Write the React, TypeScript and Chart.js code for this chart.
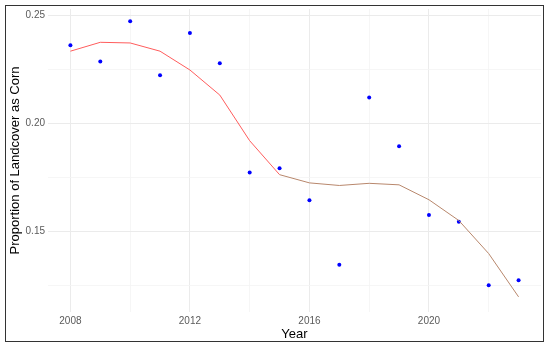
import React, { useEffect, useRef } from "react";
import { Chart, registerables } from "chart.js";

Chart.register(...registerables);

const years = [2008, 2009, 2010, 2011, 2012, 2013, 2014, 2015, 2016, 2017, 2018, 2019, 2020, 2021, 2022, 2023];
const observed = [0.236, 0.2285, 0.2471, 0.2222, 0.2417, 0.2277, 0.1772, 0.1792, 0.1644, 0.1346, 0.2119, 0.1893, 0.1575, 0.1544, 0.1251, 0.1274];
const smoothed = [0.2333, 0.2374, 0.2371, 0.2333, 0.2246, 0.213, 0.1919, 0.1762, 0.1724, 0.1712, 0.1722, 0.1715, 0.1646, 0.155, 0.1397, 0.1197];
const xTicks = [2008, 2010, 2012, 2014, 2016, 2018, 2020, 2022];
const xMajor = [2008, 2012, 2016, 2020];
const yTicks = [0.125, 0.15, 0.175, 0.2, 0.225, 0.25];
const yMajor = [0.15, 0.2, 0.25];

const isMajor = (list: number[], v: number) => list.some((m) => Math.abs(m - v) < 1e-9);

export default function App() {
  const ref = useRef<HTMLCanvasElement | null>(null);
  useEffect(() => {
    if (!ref.current) return;
    const font = "'Liberation Sans', Arial, sans-serif";
    const chart = new Chart(ref.current, {
      type: "scatter",
      data: {
        datasets: [
          {
            type: "line",
            label: "smooth",
            data: years.map((y, i) => ({ x: y, y: smoothed[i] })),
            borderWidth: 1,
            borderColor: "#ff5c5c",
            pointRadius: 0,
            tension: 0,
            segment: {
              borderColor: (ctx: any) => (ctx.p0DataIndex >= 7 ? "#b8876c" : "#ff5c5c"),
            },
          } as any,
          {
            type: "scatter",
            label: "obs",
            data: years.map((y, i) => ({ x: y, y: observed[i] })),
            backgroundColor: "#0000ff",
            borderColor: "#0000ff",
            pointRadius: 2,
            borderWidth: 0,
          },
        ],
      },
      options: {
        animation: false,
        responsive: false,
        devicePixelRatio: 1,
        layout: { padding: { left: 0, top: 8, right: 9, bottom: 0 } },
        plugins: { legend: { display: false }, tooltip: { enabled: false } },
        scales: {
          x: {
            type: "linear",
            min: 2007.25,
            max: 2023.75,
            afterBuildTicks: (s: any) => {
              s.ticks = xTicks.map((v) => ({ value: v }));
            },
            afterFit: (s: any) => {
              s.height = 35;
            },
            border: { display: false },
            grid: {
              drawTicks: false,
              color: (c: any) => (isMajor(xMajor, c.tick?.value) ? "#ebebeb" : "#f4f4f4"),
              lineWidth: (c: any) => (isMajor(xMajor, c.tick?.value) ? 1 : 0.8),
            },
            ticks: {
              padding: 3,
              color: "#5a5a5a",
              font: { family: font, size: 10 },
              maxRotation: 0,
              autoSkip: false,
              callback: (v: any) => (isMajor(xMajor, Number(v)) ? String(v) : ""),
            },
            title: {
              display: true,
              text: "Year",
              color: "#000",
              font: { family: font, size: 13 },
              padding: { top: 0, bottom: 5 },
            },
          },
          y: {
            type: "linear",
            min: 0.1127,
            max: 0.2528,
            afterBuildTicks: (s: any) => {
              s.ticks = yTicks.map((v) => ({ value: v }));
            },
            afterFit: (s: any) => {
              s.width = 48;
            },
            border: { display: false },
            grid: {
              drawTicks: false,
              color: (c: any) => (isMajor(yMajor, c.tick?.value) ? "#ebebeb" : "#f4f4f4"),
              lineWidth: (c: any) => (isMajor(yMajor, c.tick?.value) ? 1 : 0.8),
            },
            ticks: {
              padding: 3,
              color: "#5a5a5a",
              font: { family: font, size: 10 },
              autoSkip: false,
              callback: (v: any) => (isMajor(yMajor, Number(v)) ? Number(v).toFixed(2) : ""),
            },
            title: {
              display: true,
              text: "Proportion of Landcover as Corn",
              color: "#000",
              font: { family: font, size: 13 },
              padding: { top: 8, bottom: 0 },
            },
          },
        },
      },
    });
    return () => chart.destroy();
  }, []);
  return (
    <div style={{ position: "fixed", left: 0, top: 0, width: 550, height: 347, background: "#fff" }}>
      <canvas ref={ref} width={550} height={347} style={{ position: "absolute", left: 0, top: 0, width: 550, height: 347 }} />
      <div
        style={{
          position: "absolute",
          left: 5,
          top: 5,
          width: 537,
          height: 335,
          border: "1.5px solid #333",
          pointerEvents: "none",
        }}
      />
    </div>
  );
}
